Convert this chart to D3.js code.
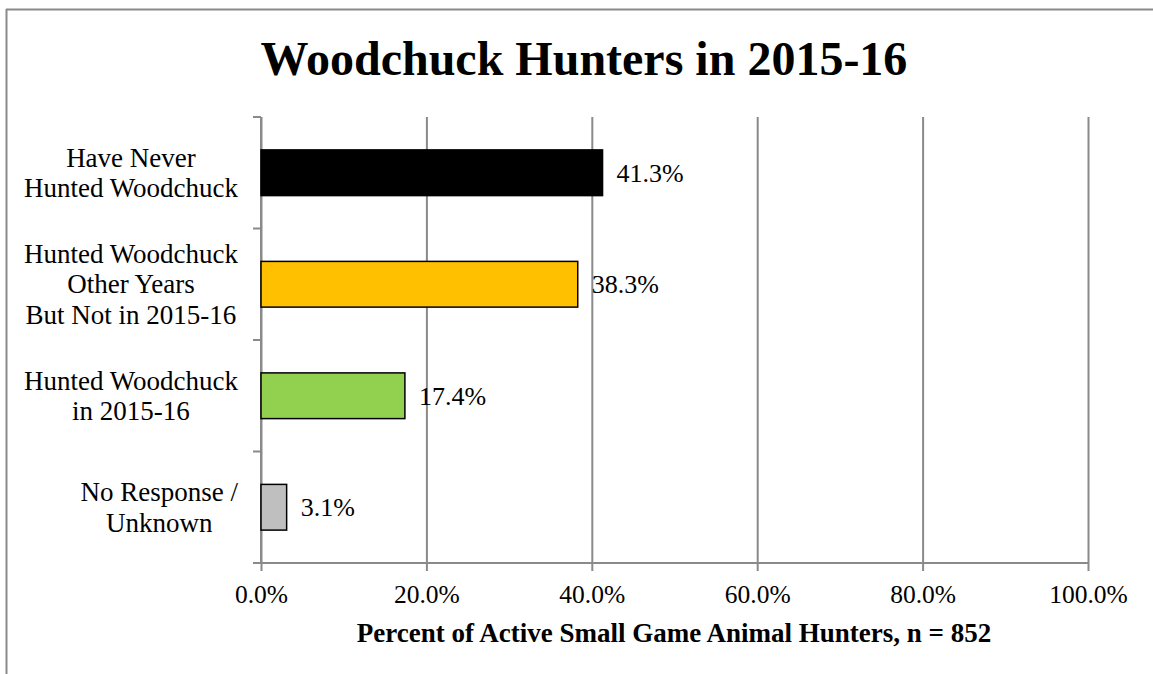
<!DOCTYPE html>
<html>
<head>
<meta charset="utf-8">
<script src="https://cdn.jsdelivr.net/npm/d3@7"></script>
<style>
  html, body { margin: 0; padding: 0; background: #fff; overflow: hidden; }
  svg { display: block; }
  text { font-family: "Liberation Serif", "Times New Roman", serif; fill: #000; }
</style>
</head>
<body>
<svg id="chart" width="1153" height="674"></svg>
<script>
const title = "Woodchuck Hunters in 2015-16";
const xAxisTitle = "Percent of Active Small Game Animal Hunters, n = 852";
const categories = [
  ["Have Never", "Hunted Woodchuck"],
  ["Hunted Woodchuck", "Other Years", "But Not in 2015-16"],
  ["Hunted Woodchuck", "in 2015-16"],
  ["No Response /", "Unknown"]
];
const values = [41.3, 38.3, 17.4, 3.1];
const colors = ["#000000", "#FFC000", "#92D050", "#BFBFBF"];
const xTicks = [0, 20, 40, 60, 80, 100];

const svg = d3.select("#chart");
const W = 1153, H = 674;
const plot = { left: 261, right: 1088, top: 117, bottom: 563 };
const gridColor = "#8a8a8a";

// outer border (top and left edges visible)
svg.append("line")
  .attr("x1", 6).attr("x2", W).attr("y1", 9.5).attr("y2", 9.5)
  .attr("stroke", gridColor).attr("stroke-width", 2);
svg.append("line")
  .attr("x1", 6.5).attr("x2", 6.5).attr("y1", 9).attr("y2", H)
  .attr("stroke", gridColor).attr("stroke-width", 2);

const x = d3.scaleLinear().domain([0, 100]).range([plot.left, plot.right]);
const idx = d3.range(categories.length);
const yBand = d3.scaleBand().domain(idx).range([plot.top, plot.bottom]).padding(0);
const yBar = d3.scaleBand().domain(idx).range([plot.top, plot.bottom])
  .paddingInner(0.59).paddingOuter(0.295);

// title
svg.append("text")
  .attr("x", 584).attr("y", 75)
  .attr("text-anchor", "middle")
  .style("font-size", "48px").style("font-weight", "bold")
  .text(title);

// vertical gridlines + x axis
const xAxis = d3.axisBottom(x)
  .tickValues(xTicks)
  .tickSize(-(plot.bottom - plot.top))
  .tickFormat(d => d.toFixed(1) + "%");
const gx = svg.append("g").attr("transform", `translate(0,${plot.bottom})`).call(xAxis);
gx.select(".domain").remove();
gx.selectAll(".tick line").attr("stroke", gridColor).attr("stroke-width", 2)
  .attr("y1", 8);
gx.selectAll(".tick text")
  .attr("y", 40).attr("dy", 0)
  .style("font-size", "25.5px")
  .style("font-family", '"Liberation Serif", "Times New Roman", serif');

// x axis baseline
svg.append("line")
  .attr("x1", plot.left - 8).attr("x2", plot.right + 1)
  .attr("y1", plot.bottom).attr("y2", plot.bottom)
  .attr("stroke", gridColor).attr("stroke-width", 2);

// y axis line and boundary ticks
svg.append("line")
  .attr("x1", plot.left).attr("x2", plot.left)
  .attr("y1", plot.top).attr("y2", plot.bottom)
  .attr("stroke", gridColor).attr("stroke-width", 2);
const boundaries = idx.map(i => yBand(i));
svg.selectAll("line.ytick").data(boundaries).enter().append("line")
  .attr("class", "ytick")
  .attr("x1", plot.left - 8).attr("x2", plot.left)
  .attr("y1", d => d).attr("y2", d => d)
  .attr("stroke", gridColor).attr("stroke-width", 2);

// bars
svg.selectAll("rect.bar").data(values).enter().append("rect")
  .attr("class", "bar")
  .attr("x", x(0))
  .attr("y", (d, i) => yBar(i))
  .attr("width", d => x(d) - x(0))
  .attr("height", yBar.bandwidth())
  .attr("fill", (d, i) => colors[i])
  .attr("stroke", "#000").attr("stroke-width", 1.5);

// value labels
svg.selectAll("text.val").data(values).enter().append("text")
  .attr("class", "val")
  .attr("x", d => x(d) + 14)
  .attr("y", (d, i) => yBar(i) + yBar.bandwidth() / 2)
  .attr("dy", "0.35em")
  .style("font-size", "26px")
  .text(d => d.toFixed(1) + "%");

// category labels
const labelRight = 238;
const lineH = 30.5;
categories.forEach((lines, i) => {
  const cy = yBand(i) + yBand.bandwidth() / 2;
  const g = svg.append("g");
  const texts = lines.map((ln, j) => g.append("text")
    .attr("text-anchor", "middle")
    .attr("y", cy + 9 + (j - (lines.length - 1) / 2) * lineH)
    .style("font-size", "27px")
    .text(ln));
  const maxW = d3.max(texts, t => t.node().getComputedTextLength());
  texts.forEach(t => t.attr("x", labelRight - maxW / 2));
});

// x axis title
svg.append("text")
  .attr("x", 674).attr("y", 642)
  .attr("text-anchor", "middle")
  .style("font-size", "27px").style("font-weight", "bold")
  .text(xAxisTitle);
</script>
</body>
</html>
